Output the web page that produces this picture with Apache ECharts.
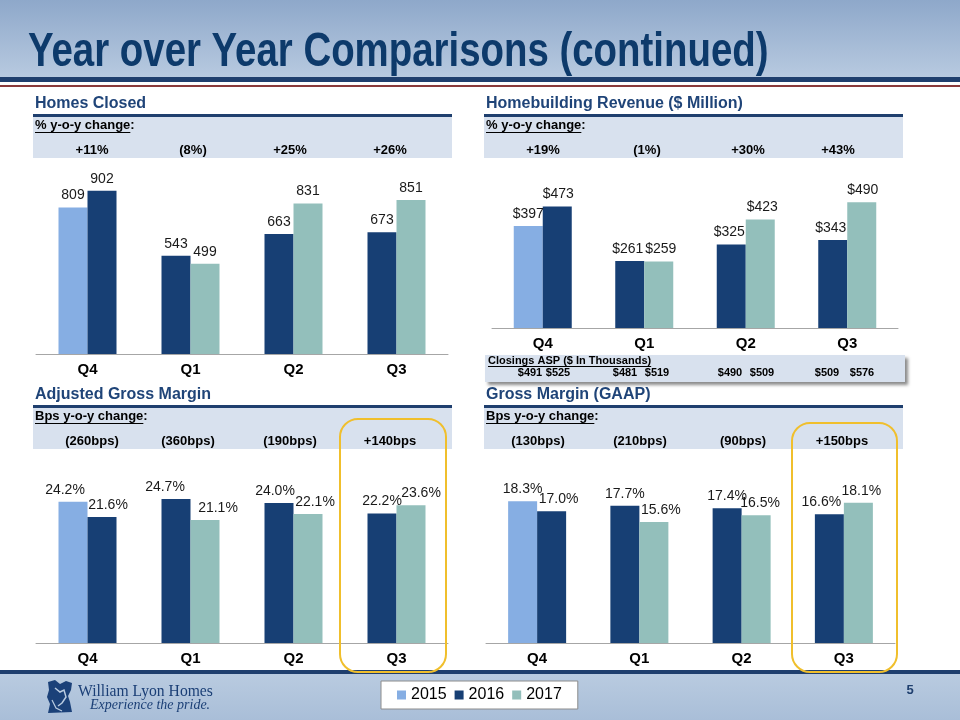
<!DOCTYPE html>
<html>
<head>
<meta charset="utf-8">
<style>html,body{margin:0;padding:0;background:#fff;}#main{width:960px;height:720px;}</style>
<script src="https://cdn.jsdelivr.net/npm/echarts@6/dist/echarts.min.js"></script>
</head>
<body>
<div id="main"></div>
<script>
// ---------------- DATA ----------------
const quarters = ['Q4', 'Q1', 'Q2', 'Q3'];
const years = ['2015', '2016', '2017'];

const homes2015 = [809, null, null, null];
const homes2016 = [902, 543, 663, 673];
const homes2017 = [null, 499, 831, 851];

const rev2015 = [397, null, null, null];
const rev2016 = [473, 261, 325, 343];
const rev2017 = [null, 259, 423, 490];

const adj2015 = [24.2, null, null, null];
const adj2016 = [21.6, 24.7, 24.0, 22.2];
const adj2017 = [null, 21.1, 22.1, 23.6];

const gaap2015 = [18.3, null, null, null];
const gaap2016 = [17.0, 17.7, 17.4, 16.6];
const gaap2017 = [null, 15.6, 16.5, 18.1];

const homesChange = ['+11%', '(8%)', '+25%', '+26%'];
const revChange = ['+19%', '(1%)', '+30%', '+43%'];
const adjChange = ['(260bps)', '(360bps)', '(190bps)', '+140bps'];
const gaapChange = ['(130bps)', '(210bps)', '(90bps)', '+150bps'];

const aspPrior = [491, 481, 490, 509];
const aspCurrent = [525, 519, 509, 576];

// ---------------- STYLE ----------------
const FONT = '"Liberation Sans", Arial, Helvetica, sans-serif';
const C15 = '#86AEE3', C16 = '#173F74', C17 = '#93BFBB';
const NAVY = '#1F3F6E', TITLE = '#0D3A6B', BAND = '#D8E1EE';

const ctx = document.createElement('canvas').getContext('2d');
function tw(text, font) { ctx.font = font; return ctx.measureText(text).width; }

function T(x, y, text, font, fill, align, extra) {
  return Object.assign({
    type: 'text', x: x, y: y, z: 20,
    style: { text: text, font: font, fill: fill || '#000',
      align: align || 'left', verticalAlign: 'middle',
      textAlign: align || 'left', textVerticalAlign: 'middle' }
  }, extra || {});
}
function R(x, y, w, h, fill, extra) {
  return Object.assign({ type: 'rect', z: 1, shape: { x: x, y: y, width: w, height: h }, style: { fill: fill } }, extra || {});
}

// ---------------- GRIDS ----------------
const grids = [
  { left: 36, top: 173, width: 412, height: 181 },
  { left: 492, top: 174, width: 406, height: 154 },
  { left: 36, top: 468, width: 412, height: 175 },
  { left: 486, top: 488, width: 409, height: 155 }
];
const yMax = [1000, 600, 30, 20];

const panels = [
  { d15: homes2015, d16: homes2016, d17: homes2017, fmt: v => String(v), offL: [0, 0, 0, 0], offR: [0, 0, 0, 0] },
  { d15: rev2015, d16: rev2016, d17: rev2017, fmt: v => '$' + v, offL: [0, -2, -2, -2], offR: [1, 2, 2, 1] },
  { d15: adj2015, d16: adj2016, d17: adj2017, fmt: v => v.toFixed(1) + '%', offL: [-8, -11, -4, 0], offR: [6, 13, 7, 10] },
  { d15: gaap2015, d16: gaap2016, d17: gaap2017, fmt: v => v.toFixed(1) + '%', offL: [0, 0, 0, -8], offR: [7, 7, 4, 3] }
];

const series = [];
panels.forEach((p, i) => {
  const mk = (vals, offs) => vals.map((v, j) => v == null ? '-' : { value: v, label: { offset: [offs[j], 0] } });
  const leftFirst = quarters.map((q, j) => j === 0 ? p.d15[j] : null);
  const left16 = quarters.map((q, j) => j === 0 ? null : p.d16[j]);
  const right16 = quarters.map((q, j) => j === 0 ? p.d16[j] : null);
  const right17 = quarters.map((q, j) => j === 0 ? null : p.d17[j]);
  const base = (name, stack, color, data) => ({
    type: 'bar', name: name, stack: stack + i, xAxisIndex: i, yAxisIndex: i,
    barWidth: 29, barGap: '0%', data: data,
    itemStyle: { color: color },
    label: { show: true, position: 'top', distance: 5, color: '#1a1a1a', fontSize: 14, fontFamily: FONT,
      formatter: prm => p.fmt(prm.value) },
    emphasis: { disabled: true }, animation: false
  });
  series.push(base('2015', 'L', C15, mk(leftFirst, p.offL)));
  series.push(base('2016', 'L', C16, mk(left16, p.offL)));
  series.push(base('2016', 'R', C16, mk(right16, p.offR)));
  series.push(base('2017', 'R', C17, mk(right17, p.offR)));
});

const xAxes = grids.map((g, i) => ({
  type: 'category', gridIndex: i, data: quarters,
  axisTick: { show: false },
  axisLine: { lineStyle: { color: '#A6A6A6', width: 1 } },
  axisLabel: { color: '#000', fontWeight: 'bold', fontSize: 15, fontFamily: FONT, margin: 8 }
}));
const yAxes = grids.map((g, i) => ({
  type: 'value', gridIndex: i, min: 0, max: yMax[i], show: false, splitLine: { show: false }
}));

// ---------------- GRAPHICS ----------------
const G = [];
// header
G.push(R(0, 0, 960, 78, { type: 'linear', x: 0, y: 0, x2: 0, y2: 1,
  colorStops: [{ offset: 0, color: '#8EA8CA' }, { offset: 1, color: '#B8CAE0' }] }, { z: 0 }));
G.push(R(0, 77, 960, 5, NAVY, { z: 0 }));
G.push(R(0, 85, 960, 2, '#8A3B3B', { z: 0 }));
G.push({ type: 'text', x: 28, y: 53, z: 20, scaleX: 0.8, scaleY: 1,
  style: { text: 'Year over Year Comparisons (continued)', font: 'bold 48px ' + FONT, fill: TITLE,
    align: 'left', verticalAlign: 'middle', textAlign: 'left', textVerticalAlign: 'middle' } });

// footer
G.push(R(0, 674, 960, 46, { type: 'linear', x: 0, y: 0, x2: 0, y2: 1,
  colorStops: [{ offset: 0, color: '#B9CBE0' }, { offset: 1, color: '#A9BED8' }] }, { z: 0 }));
G.push(R(0, 670, 960, 4, NAVY, { z: 0 }));

// section headers
function section(x, w, yHead, title, subLabel, values, centers) {
  G.push(T(x + 2, yHead, title, 'bold 16px ' + FONT, '#1F4478'));
  G.push(R(x, yHead + 10, w, 3, NAVY, { z: 2 }));
  G.push(R(x, yHead + 13, w, 41, BAND, { z: 1 }));
  const f = 'bold 13px ' + FONT;
  G.push(T(x + 2, yHead + 21, subLabel + ':', f, '#000'));
  const uw = tw(subLabel, f);
  G.push({ type: 'line', z: 20, shape: { x1: x + 2, y1: yHead + 28.5, x2: x + 2 + uw, y2: yHead + 28.5 }, style: { stroke: '#000', lineWidth: 1 } });
  values.forEach((v, j) => G.push(T(centers[j], yHead + 46, v, f, '#000', 'center')));
}
section(33, 419, 104, 'Homes Closed', '% y-o-y change', homesChange, [92, 193, 290, 390]);
section(484, 419, 104, 'Homebuilding Revenue ($ Million)', '% y-o-y change', revChange, [543, 647, 748, 838]);
section(33, 419, 395, 'Adjusted Gross Margin', 'Bps y-o-y change', adjChange, [92, 188, 290, 390]);
section(484, 419, 395, 'Gross Margin (GAAP)', 'Bps y-o-y change', gaapChange, [538, 640, 743, 842]);

// ASP box
G.push(R(485, 355, 420, 27, BAND, { z: 3, style: { fill: BAND, shadowBlur: 3, shadowOffsetX: 3, shadowOffsetY: 3, shadowColor: 'rgba(0,0,0,0.45)' } }));
const aspTitle = 'Closings ASP ($ In Thousands)';
const fAsp = 'bold 11px ' + FONT;
G.push(T(488, 361, aspTitle, fAsp, '#000'));
G.push({ type: 'line', z: 20, shape: { x1: 488, y1: 366.5, x2: 488 + tw(aspTitle, fAsp), y2: 366.5 }, style: { stroke: '#000', lineWidth: 1 } });
const aspL = [530, 625, 730, 827], aspR = [558, 657, 762, 862];
aspPrior.forEach((v, j) => G.push(T(aspL[j], 373, '$' + v, 'bold 11px ' + FONT, '#000', 'center')));
aspCurrent.forEach((v, j) => G.push(T(aspR[j], 373, '$' + v, 'bold 11px ' + FONT, '#000', 'center')));

// highlight boxes
G.push({ type: 'rect', z: 30, shape: { x: 340, y: 419, width: 106, height: 253, r: 18 }, style: { fill: 'none', stroke: '#F0BF2C', lineWidth: 2 } });
G.push({ type: 'rect', z: 30, shape: { x: 792, y: 423, width: 105, height: 249, r: 18 }, style: { fill: 'none', stroke: '#F0BF2C', lineWidth: 2 } });

// logo
G.push({ type: 'polygon', z: 5, shape: { points: [[48, 682], [55, 680], [60, 684], [66, 681], [72, 683], [71, 690], [68, 696], [70, 702], [72, 712], [48, 713], [50, 704], [47, 697], [49, 690]] }, style: { fill: '#1B4179' } });
G.push({ type: 'polyline', z: 6, shape: { points: [[55, 688], [60, 692], [64, 690], [66, 697], [62, 703], [58, 706]] }, style: { stroke: '#B9CBE0', lineWidth: 1.5, fill: 'none' } });
G.push({ type: 'polyline', z: 6, shape: { points: [[52, 700], [56, 708], [62, 711]] }, style: { stroke: '#B9CBE0', lineWidth: 1.2, fill: 'none' } });
G.push(T(78, 692, 'William Lyon Homes', '17px "Liberation Serif", "Times New Roman", serif', '#1B3F76', 'left', { scaleX: 0.92 }));
G.push(T(90, 705, 'Experience the pride.', 'italic 14px "Liberation Serif", "Times New Roman", serif', '#1B3F76'));

// page number
G.push(T(910, 690, '5', 'bold 13px ' + FONT, '#1F3F6E', 'center'));

const chart = echarts.init(document.getElementById('main'), null, { renderer: 'canvas' });
chart.setOption({
  animation: false,
  backgroundColor: '#fff',
  grid: grids,
  xAxis: xAxes,
  yAxis: yAxes,
  series: series,
  legend: {
    data: years, left: 381, top: 681, icon: 'rect', itemWidth: 9, itemHeight: 9, itemGap: 8,
    padding: [6, 16, 6, 16], backgroundColor: '#fff', borderColor: '#8C8C8C', borderWidth: 1,
    textStyle: { fontSize: 16, color: '#000', fontFamily: FONT }, selectedMode: false, z: 40
  },
  graphic: { elements: G }
});
</script>
</body>
</html>
